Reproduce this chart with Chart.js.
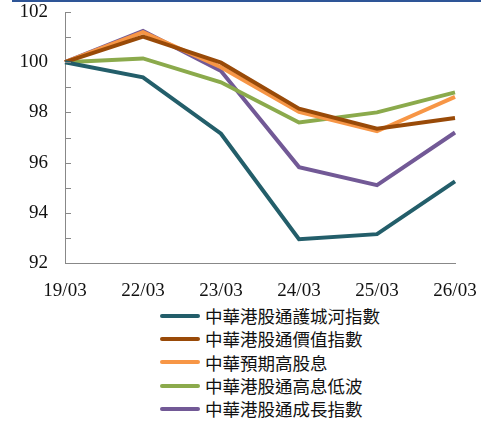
<!DOCTYPE html>
<html><head><meta charset="utf-8">
<script src="https://cdn.jsdelivr.net/npm/chart.js@4/dist/chart.umd.min.js"></script>
<style>
html,body{margin:0;padding:0;background:#fff;width:481px;height:421px;overflow:hidden;}
#wrap{position:relative;width:481px;height:421px;}
#topline{position:absolute;left:12px;top:0;width:469px;height:2px;background:#2E5597;}
#c{position:absolute;left:0;top:0;}
#legend{position:absolute;left:160px;top:304px;font-family:"Noto Sans CJK TC","Noto Sans CJK SC",sans-serif;font-size:17.5px;color:#111;}
.item{display:flex;align-items:center;height:23.3px;}
.sw{width:40px;height:4px;border-radius:2px;margin-right:5px;}
</style></head>
<body><div id="wrap"><div id="topline"></div><canvas id="c" width="481" height="300"></canvas><div id="legend"></div></div>
<script>
const categories = ["19/03","22/03","23/03","24/03","25/03","26/03"];
const seriesNames = ["中華港股通護城河指數","中華港股通價值指數","中華預期高股息","中華港股通高息低波","中華港股通成長指數"];
const moat   = [100, 99.4, 97.15, 92.95, 93.15, 95.25];
const value  = [100, 101.02, 99.98, 98.15, 97.35, 97.78];
const divid  = [100, 101.2, 99.8, 98.02, 97.25, 98.62];
const lowvol = [100, 100.15, 99.2, 97.6, 98.0, 98.8];
const growth = [100, 101.25, 99.65, 95.82, 95.1, 97.2];
const colors = ["#235E6A","#994A08","#F79646","#8BAA4C","#725996"];
const yMin = 92, yMax = 102, yStep = 2, minorStep = 1;

const allSeries = [moat, value, divid, lowvol, growth];
const datasets = allSeries.map((d,i)=>({label:seriesNames[i],data:d,borderColor:colors[i],backgroundColor:colors[i],borderWidth:4,pointRadius:0,tension:0,fill:false}));
const minorTicks = {
  id:'minorTicks',
  afterDraw(chart){
    const y = chart.scales.y, ctx = chart.ctx;
    ctx.save();
    ctx.strokeStyle = '#888'; ctx.lineWidth = 1;
    for(let v=yMin; v<=yMax; v+=minorStep){
      const py = Math.round(y.getPixelForValue(v))+0.5;
      ctx.beginPath(); ctx.moveTo(y.right, py); ctx.lineTo(y.right+6, py); ctx.stroke();
    }
    ctx.restore();
  }
};
new Chart(document.getElementById('c'),{
  type:'line',
  data:{labels:categories,datasets},
  options:{
    responsive:false,animation:false,
    layout:{padding:{top:12,right:26,left:0,bottom:0}},
    plugins:{legend:{display:false},tooltip:{enabled:false}},
    scales:{
      x:{offset:false,
        grid:{display:false,drawTicks:false},
        border:{display:true,color:'#888',width:1},
        ticks:{font:{family:'"Liberation Serif","Times New Roman",serif',size:19},color:'#111',padding:17,maxRotation:0,autoSkip:false},
        afterFit(s){s.height=37;s.paddingLeft=0;s.paddingRight=0;}
      },
      y:{min:yMin,max:yMax,
        grid:{display:false,drawTicks:false},
        border:{display:true,color:'#888',width:1},
        ticks:{stepSize:yStep,font:{family:'"Liberation Serif","Times New Roman",serif',size:19},color:'#111',padding:17},
        afterFit(s){s.width=65;s.paddingTop=0;s.paddingBottom=0;}
      }
    }
  },
  plugins:[minorTicks]
});
const lg = document.getElementById('legend');
seriesNames.forEach((n,i)=>{
  const d=document.createElement('div');d.className='item';
  d.innerHTML='<span class="sw" style="background:'+colors[i]+'"></span><span>'+n+'</span>';
  lg.appendChild(d);
});
</script></body></html>
